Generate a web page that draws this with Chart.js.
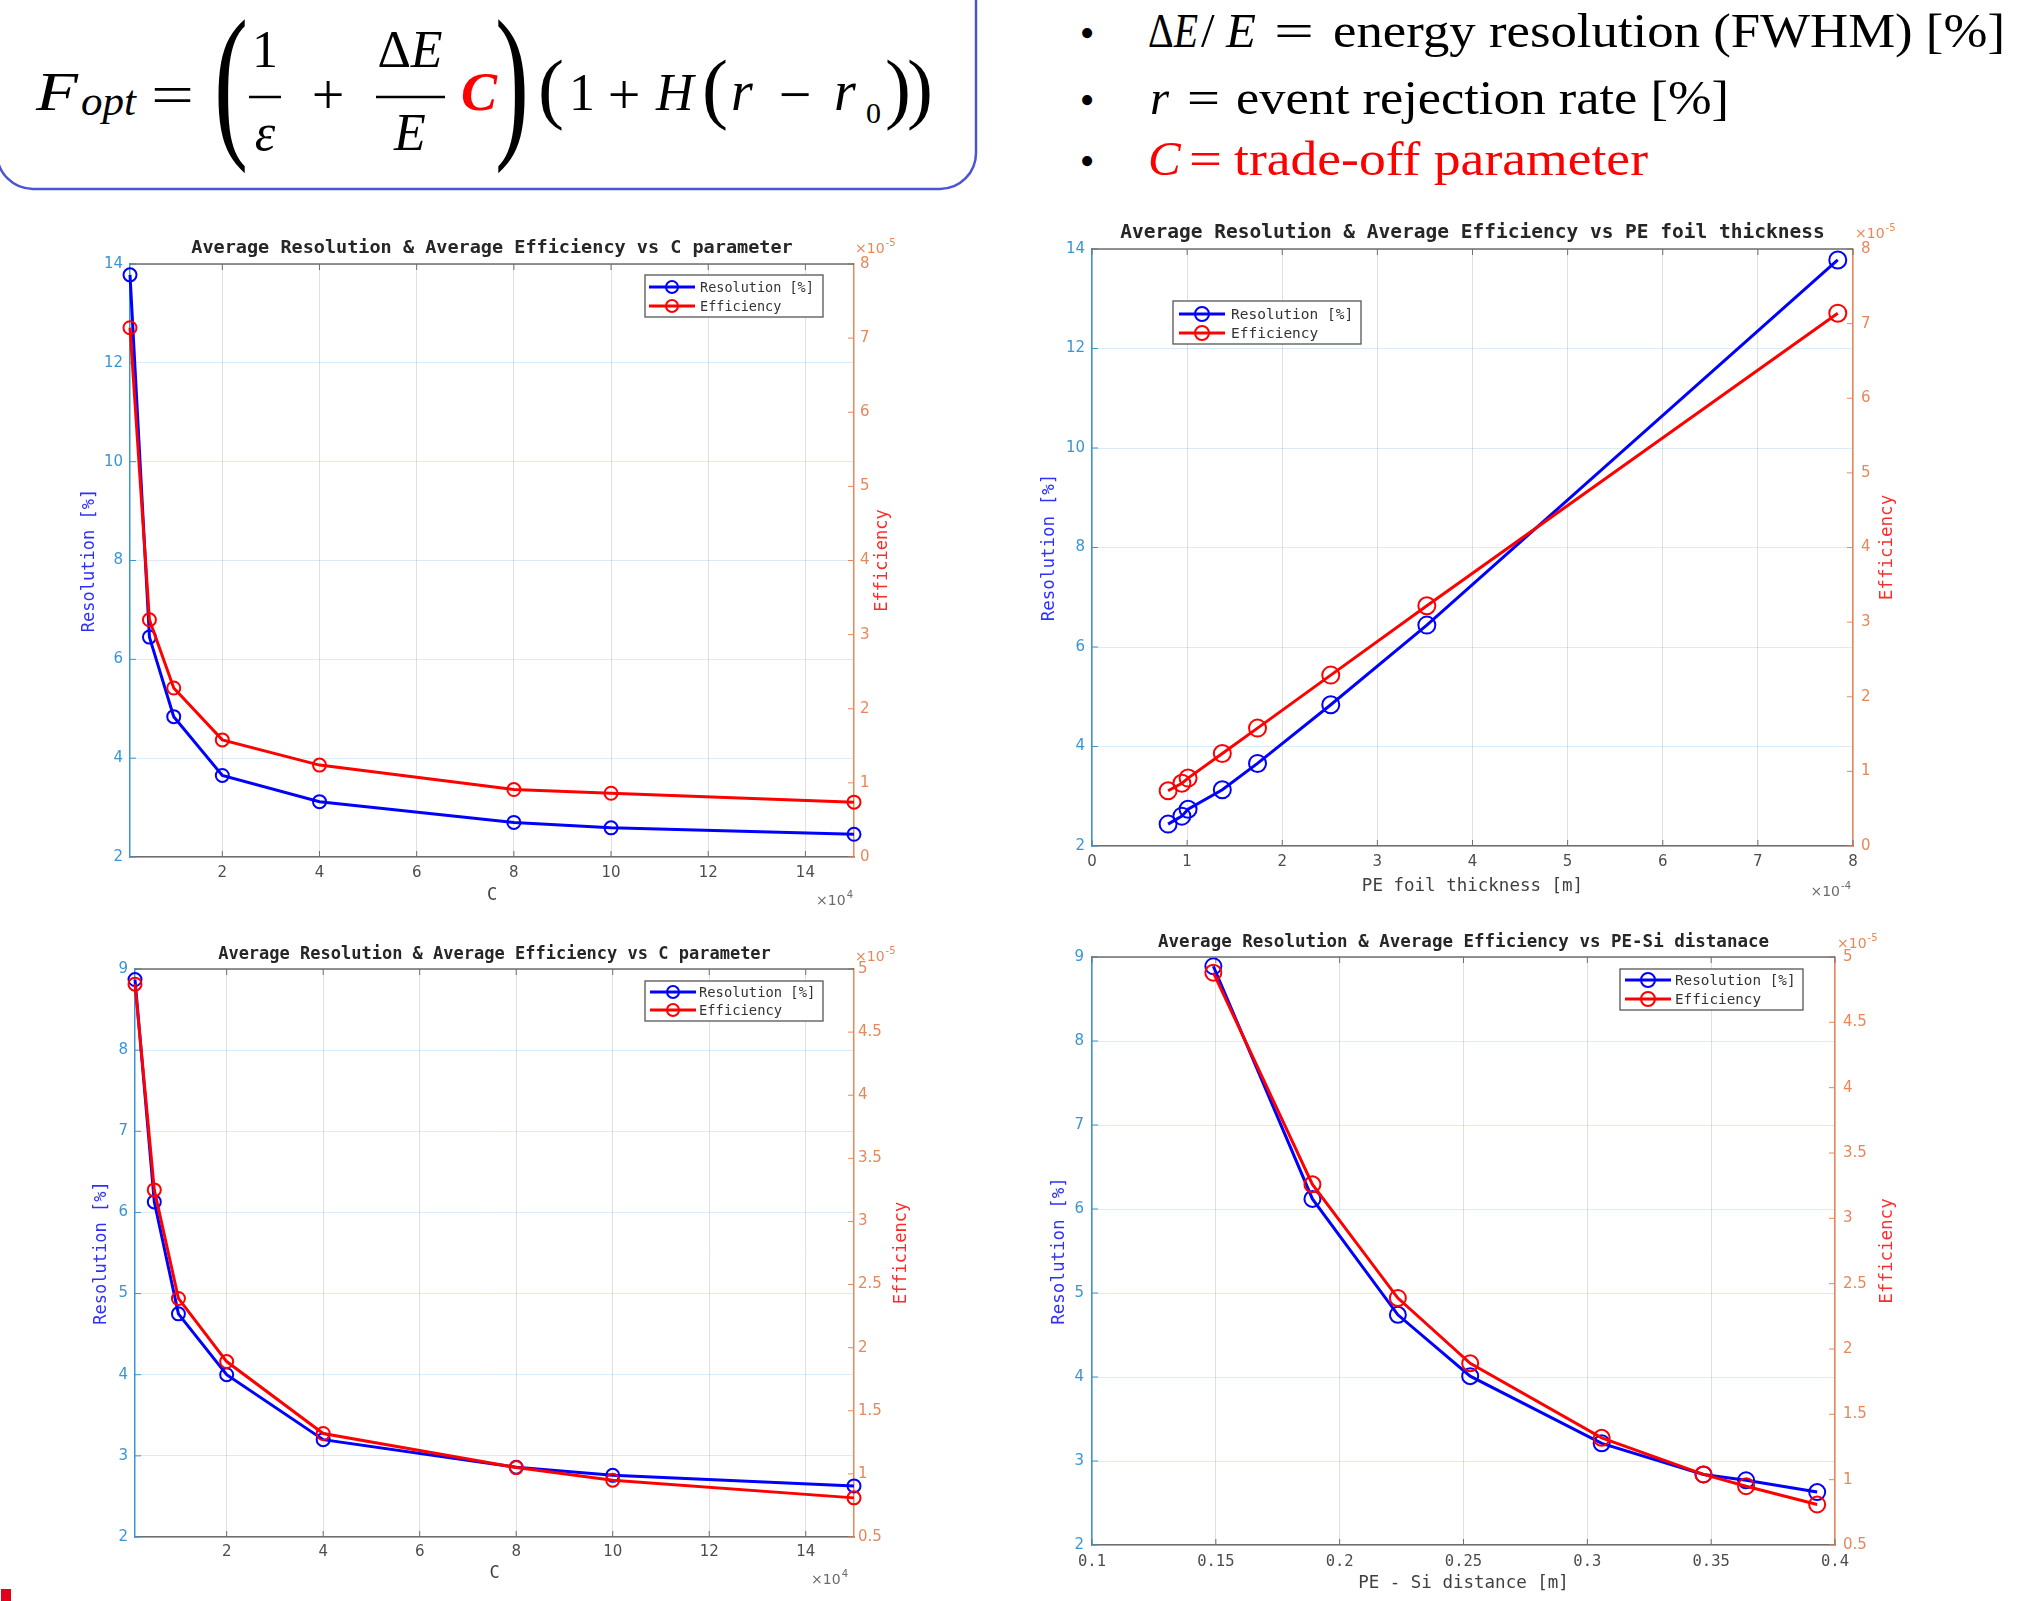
<!DOCTYPE html>
<html>
<head>
<meta charset="utf-8">
<script src="https://cdn.jsdelivr.net/npm/chart.js@4.4.0/dist/chart.umd.min.js"></script>
<style>
  html, body { margin: 0; padding: 0; background: #fff; }
  body { width: 2027px; height: 1601px; position: relative; overflow: hidden; }
  canvas { position: absolute; }
  #head { position: absolute; left: 0; top: 0; }
  #head text { font-family: 'Liberation Serif', 'Times New Roman', serif; }
  #mark { position: absolute; left: 1px; top: 1589px; width: 10px; height: 12px; background: #e3001b; }
</style>
</head>
<body>

<svg id="head" width="2027" height="200" fill="#000">
  <rect x="-3" y="-40" width="979" height="229" rx="36" fill="none" stroke="#4b55d2" stroke-width="2.5"/>
  <!-- formula -->
  <text x="36" y="110" font-size="54" font-style="italic" textLength="42" lengthAdjust="spacingAndGlyphs">F</text>
  <text x="81" y="115" font-size="42" font-style="italic" textLength="55" lengthAdjust="spacingAndGlyphs">opt</text>
  <text x="151" y="114" font-size="58" textLength="43" lengthAdjust="spacingAndGlyphs">=</text>
  <text x="214" y="137" font-size="169" textLength="34" lengthAdjust="spacingAndGlyphs">(</text>
  <text x="265" y="67" font-size="52" text-anchor="middle">1</text>
  <line x1="249" y1="97" x2="281" y2="97" stroke="#000" stroke-width="2.5"/>
  <text x="265" y="150" font-size="52" font-style="italic" text-anchor="middle">ε</text>
  <text x="328" y="114" font-size="58" text-anchor="middle">+</text>
  <text x="410" y="67" font-size="52" text-anchor="middle"><tspan>Δ</tspan><tspan font-style="italic">E</tspan></text>
  <line x1="376" y1="97" x2="445" y2="97" stroke="#000" stroke-width="2.5"/>
  <text x="410" y="150" font-size="52" font-style="italic" text-anchor="middle">E</text>
  <text x="461" y="110" font-size="54" font-style="italic" font-weight="bold" fill="#ff0000">C</text>
  <text x="495" y="137" font-size="169" textLength="34" lengthAdjust="spacingAndGlyphs">)</text>
  <text x="538" y="114" font-size="78">(</text>
  <text x="569" y="110" font-size="52">1</text>
  <text x="624" y="114" font-size="58" text-anchor="middle">+</text>
  <text x="656" y="110" font-size="52" font-style="italic">H</text>
  <text x="702" y="114" font-size="78">(</text>
  <text x="731" y="110" font-size="56" font-style="italic">r</text>
  <text x="795" y="114" font-size="58" text-anchor="middle">−</text>
  <text x="834" y="110" font-size="56" font-style="italic">r</text>
  <text x="866" y="123" font-size="30">0</text>
  <text x="885" y="114" font-size="78">)</text>
  <text x="907" y="114" font-size="78">)</text>
  <!-- bullets -->
  <text x="1087" y="47" font-size="42" text-anchor="middle">•</text>
  <text x="1148" y="47" font-size="49" textLength="50" lengthAdjust="spacingAndGlyphs"><tspan>Δ</tspan><tspan font-style="italic">E</tspan></text>
  <text x="1201" y="47" font-size="49">/</text>
  <text x="1226" y="47" font-size="49" font-style="italic">E</text>
  <text x="1274" y="47" font-size="49" textLength="40" lengthAdjust="spacingAndGlyphs">=</text>
  <text x="1333" y="47" font-size="49" textLength="672" lengthAdjust="spacingAndGlyphs">energy resolution (FWHM) [%]</text>

  <text x="1087" y="114" font-size="42" text-anchor="middle">•</text>
  <text x="1150" y="114" font-size="49" font-style="italic">r</text>
  <text x="1187" y="114" font-size="49" textLength="33" lengthAdjust="spacingAndGlyphs">=</text>
  <text x="1236" y="114" font-size="49" textLength="493" lengthAdjust="spacingAndGlyphs">event rejection rate [%]</text>

  <text x="1087" y="175" font-size="42" text-anchor="middle">•</text>
  <text x="1148" y="175" font-size="49" font-style="italic" fill="#ff0000">C</text>
  <text x="1189" y="175" font-size="49" fill="#ff0000" textLength="33" lengthAdjust="spacingAndGlyphs">=</text>
  <text x="1234" y="175" font-size="49" fill="#ff0000" textLength="414" lengthAdjust="spacingAndGlyphs">trade-off parameter</text>
</svg>

<canvas id="c1"></canvas>
<canvas id="c2"></canvas>
<canvas id="c3"></canvas>
<canvas id="c4"></canvas>
<div id="mark"></div>

<script>
// C parameter scan (top left)
const cValues = [1000, 5000, 10000, 20000, 40000, 80000, 100000, 150000];
const resC = [13.78, 6.45, 4.84, 3.65, 3.12, 2.70, 2.59, 2.46];
const effC = [7.14e-5, 3.20e-5, 2.28e-5, 1.58e-5, 1.24e-5, 0.91e-5, 0.86e-5, 0.74e-5];

// PE foil thickness scan (top right)
const thickValues = [0.80e-4, 0.945e-4, 1.01e-4, 1.37e-4, 1.74e-4, 2.51e-4, 3.52e-4, 7.84e-4];
const resThick = [2.44, 2.60, 2.74, 3.13, 3.66, 4.84, 6.44, 13.78];
const effThick = [0.74e-5, 0.84e-5, 0.91e-5, 1.24e-5, 1.58e-5, 2.29e-5, 3.22e-5, 7.14e-5];

// C parameter scan, second setup (bottom left)
const resC2 = [8.87, 6.13, 4.75, 4.00, 3.20, 2.86, 2.76, 2.63];
const effC2 = [4.88e-5, 3.25e-5, 2.39e-5, 1.89e-5, 1.32e-5, 1.05e-5, 0.95e-5, 0.81e-5];

// PE-Si distance scan (bottom right)
const distValues = [0.149, 0.189, 0.2235, 0.2527, 0.3058, 0.3469, 0.3641, 0.3928];
const resDist = [8.89, 6.12, 4.74, 4.01, 3.21, 2.84, 2.77, 2.63];
const effDist = [4.88e-5, 3.26e-5, 2.39e-5, 1.89e-5, 1.32e-5, 1.04e-5, 0.95e-5, 0.81e-5];

// ticks
const cTicks = [20000, 40000, 60000, 80000, 100000, 120000, 140000];
const cTickLabels = ['2', '4', '6', '8', '10', '12', '14'];
const thickTicks = [0, 1e-4, 2e-4, 3e-4, 4e-4, 5e-4, 6e-4, 7e-4, 8e-4];
const thickTickLabels = ['0', '1', '2', '3', '4', '5', '6', '7', '8'];
const distTicks = [0.1, 0.15, 0.2, 0.25, 0.3, 0.35, 0.4];
const distTickLabels = ['0.1', '0.15', '0.2', '0.25', '0.3', '0.35', '0.4'];
const resTicksTop = [2, 4, 6, 8, 10, 12, 14];
const resTickLabelsTop = ['2', '4', '6', '8', '10', '12', '14'];
const effTicksTop = [0, 1e-5, 2e-5, 3e-5, 4e-5, 5e-5, 6e-5, 7e-5, 8e-5];
const effTickLabelsTop = ['0', '1', '2', '3', '4', '5', '6', '7', '8'];
const resTicksBottom = [2, 3, 4, 5, 6, 7, 8, 9];
const resTickLabelsBottom = ['2', '3', '4', '5', '6', '7', '8', '9'];
const effTicksBottom = [0.5e-5, 1e-5, 1.5e-5, 2e-5, 2.5e-5, 3e-5, 3.5e-5, 4e-5, 4.5e-5, 5e-5];
const effTickLabelsBottom = ['0.5', '1', '1.5', '2', '2.5', '3', '3.5', '4', '4.5', '5'];

const BLUE_AX = '#3a95d5';
const ORANGE_AX = '#e8875a';

function drawExp(ctx, sup, x, y, alignRight, color) {
  ctx.textAlign = 'left';
  ctx.textBaseline = 'alphabetic';
  ctx.font = '14px "DejaVu Sans"';
  const w1 = ctx.measureText('\u00d710').width;
  ctx.font = '10px "DejaVu Sans"';
  const w2 = ctx.measureText(sup).width;
  const x0 = alignRight ? x - w1 - w2 - 1 : x;
  ctx.fillStyle = color;
  ctx.font = '14px "DejaVu Sans"';
  ctx.fillText('\u00d710', x0, y);
  ctx.font = '10px "DejaVu Sans"';
  ctx.fillText(sup, x0 + w1 + 1, y - 7);
}

function decorFor(box, plot, o) {
  return {
    id: 'decor',
    beforeDatasetsDraw(chart) {
      const ctx = chart.ctx, a = chart.chartArea;
      const sx = chart.scales.x, yl = chart.scales.yL, yr = chart.scales.yR;
      ctx.save();
      ctx.lineWidth = 1;
      ctx.strokeStyle = '#6e6e6e';
      ctx.beginPath();
      sx.ticks.forEach(t => {
        const p = sx.getPixelForValue(t.value);
        ctx.moveTo(p, a.bottom); ctx.lineTo(p, a.bottom - 6);
        ctx.moveTo(p, a.top); ctx.lineTo(p, a.top + 6);
      });
      ctx.stroke();
      ctx.strokeStyle = BLUE_AX;
      ctx.beginPath();
      yl.ticks.forEach(t => {
        const p = yl.getPixelForValue(t.value);
        ctx.moveTo(a.left, p); ctx.lineTo(a.left + 6, p);
      });
      ctx.stroke();
      ctx.strokeStyle = ORANGE_AX;
      ctx.beginPath();
      yr.ticks.forEach(t => {
        const p = yr.getPixelForValue(t.value);
        ctx.moveTo(a.right, p); ctx.lineTo(a.right - 6, p);
      });
      ctx.stroke();
      ctx.restore();
    },
    afterDraw(chart) {
      const ctx = chart.ctx, a = chart.chartArea;
      ctx.save();
      // top border
      ctx.strokeStyle = '#6e6e6e';
      ctx.lineWidth = 1.5;
      ctx.beginPath();
      ctx.moveTo(a.left, a.top); ctx.lineTo(a.right, a.top);
      ctx.stroke();
      // title
      ctx.fillStyle = '#262626';
      ctx.font = 'bold ' + o.titleSize + 'px "DejaVu Sans Mono"';
      ctx.textAlign = 'center';
      ctx.textBaseline = 'middle';
      ctx.fillText(o.title, (a.left + a.right) / 2, o.titleY - box.y);
      // right axis title
      ctx.save();
      ctx.translate(o.rightTitleX - box.x, (a.top + a.bottom) / 2);
      ctx.rotate(-Math.PI / 2);
      ctx.fillStyle = '#ff2a2a';
      ctx.font = o.labelSize + 'px "DejaVu Sans Mono"';
      ctx.fillText('Efficiency', 0, 0);
      ctx.restore();
      // exponents
      drawExp(ctx, o.rExp.text, o.rExp.x - box.x, o.rExp.y - box.y, false, ORANGE_AX);
      if (o.xExp) drawExp(ctx, o.xExp.text, o.xExp.x - box.x, o.xExp.y - box.y, true, '#6a6a6a');
      // legend
      const L = o.legend;
      ctx.fillStyle = '#fff';
      ctx.strokeStyle = '#555';
      ctx.lineWidth = 1.3;
      ctx.fillRect(L.x1 - box.x, L.y1 - box.y, L.x2 - L.x1, L.y2 - L.y1);
      ctx.strokeRect(L.x1 - box.x, L.y1 - box.y, L.x2 - L.x1, L.y2 - L.y1);
      ctx.font = L.size + 'px "DejaVu Sans Mono"';
      ctx.textAlign = 'left';
      ctx.textBaseline = 'middle';
      chart.data.datasets.forEach((ds, i) => {
        const y = L.rows[i] - box.y;
        ctx.strokeStyle = ds.borderColor;
        ctx.lineWidth = 2.8;
        ctx.beginPath();
        ctx.moveTo(L.lineA - box.x, y); ctx.lineTo(L.lineB - box.x, y);
        ctx.stroke();
        ctx.lineWidth = 2;
        ctx.beginPath();
        ctx.arc((L.lineA + L.lineB) / 2 - box.x, y, L.r, 0, Math.PI * 2);
        ctx.stroke();
        ctx.fillStyle = '#333';
        ctx.fillText(ds.label, L.textX - box.x, y + 1);
      });
      ctx.restore();
    }
  };
}

function makeChart(id, box, plot, o) {
  const cv = document.getElementById(id);
  cv.width = box.w; cv.height = box.h;
  cv.style.left = box.x + 'px'; cv.style.top = box.y + 'px';
  const tickLh = o.tickSize * 1.2;
  const lh = o.labelSize * 1.2;
  const ptStyle = (color, order) => ({
    borderColor: color, backgroundColor: color, borderWidth: 3,
    pointRadius: o.radius, pointBorderWidth: 2, pointBorderColor: color,
    pointBackgroundColor: 'rgba(0,0,0,0)', tension: 0, clip: false, order: order
  });
  new Chart(cv, {
    type: 'line',
    data: {
      datasets: [
        Object.assign({ label: 'Resolution [%]', yAxisID: 'yL',
          data: o.xs.map((v, i) => ({ x: v, y: o.res[i] })) }, ptStyle('#0000ff', 1)),
        Object.assign({ label: 'Efficiency', yAxisID: 'yR',
          data: o.xs.map((v, i) => ({ x: v, y: o.eff[i] })) }, ptStyle('#ff0000', 0))
      ]
    },
    options: {
      responsive: false, animation: false, events: [],
      layout: { padding: { top: plot.t - box.y, left: 0, right: 0, bottom: 0 } },
      plugins: { legend: { display: false }, tooltip: { enabled: false } },
      scales: {
        x: {
          type: 'linear', position: 'bottom', min: o.xMin, max: o.xMax,
          afterBuildTicks: s => { s.ticks = o.xTicks.map(v => ({ value: v })); },
          afterFit: s => { s.height = box.y + box.h - plot.b; },
          ticks: {
            callback: (v, i) => o.xTickLabels[i], autoSkip: false, maxRotation: 0,
            color: '#4d4d4d', padding: o.xTickY - plot.b - tickLh / 2,
            font: { family: o.xMono ? 'DejaVu Sans Mono' : 'DejaVu Sans', size: o.xMono ? 15.5 : o.tickSize }
          },
          grid: { color: 'rgba(0,0,0,0.12)', drawTicks: false, lineWidth: 1 },
          border: { color: '#6e6e6e', width: 1.5 },
          title: {
            display: true, text: o.xTitle, color: '#404040',
            font: { family: 'DejaVu Sans Mono', size: o.labelSize },
            padding: { top: 0, bottom: box.y + box.h - o.xTitleY - lh / 2 }
          }
        },
        yL: {
          type: 'linear', position: 'left', min: o.yL[0], max: o.yL[o.yL.length - 1],
          afterBuildTicks: s => { s.ticks = o.yL.map(v => ({ value: v })); },
          afterFit: s => { s.width = plot.l - box.x; },
          ticks: {
            callback: (v, i) => o.yLLabels[i], color: BLUE_AX,
            padding: plot.l - o.leftTickRight,
            font: { family: 'DejaVu Sans', size: o.tickSize }
          },
          grid: { color: 'rgba(0,114,189,0.14)', drawTicks: false, lineWidth: 1 },
          border: { color: BLUE_AX, width: 1.5 },
          title: {
            display: true, text: 'Resolution [%]', color: '#2f2fff',
            font: { family: 'DejaVu Sans Mono', size: o.labelSize },
            padding: { top: o.leftTitleX - box.x - lh / 2, bottom: 0 }
          }
        },
        yR: {
          type: 'linear', position: 'right', min: o.yR[0], max: o.yR[o.yR.length - 1],
          afterBuildTicks: s => { s.ticks = o.yR.map(v => ({ value: v })); },
          afterFit: s => { s.width = box.x + box.w - plot.r; },
          ticks: {
            callback: (v, i) => o.yRLabels[i], color: ORANGE_AX,
            padding: o.rightTickLeft - plot.r,
            font: { family: 'DejaVu Sans', size: o.tickSize }
          },
          grid: { display: false, drawTicks: false },
          border: { color: ORANGE_AX, width: 1.5 }
        }
      }
    },
    plugins: [decorFor(box, plot, o)]
  });
}

makeChart('c1', { x: 30, y: 225, w: 900, h: 685 }, { l: 130, t: 264, r: 854, b: 857 }, {
  xs: cValues, res: resC, eff: effC, xMin: 1000, xMax: 150000,
  xTicks: cTicks, xTickLabels: cTickLabels, xTitle: 'C',
  yL: resTicksTop, yLLabels: resTickLabelsTop, yR: effTicksTop, yRLabels: effTickLabelsTop,
  title: 'Average Resolution & Average Efficiency vs C parameter', titleY: 248, titleSize: 18.5,
  labelSize: 17, tickSize: 15, radius: 6.5,
  leftTitleX: 89.5, rightTitleX: 883, xTitleY: 896, xTickY: 873, leftTickRight: 123, rightTickLeft: 860,
  xExp: { text: '4', x: 853, y: 905 }, rExp: { text: '-5', x: 855, y: 253 },
  legend: { x1: 645, y1: 275, x2: 823, y2: 317, rows: [287, 306], lineA: 649, lineB: 695, textX: 700, size: 13.5, r: 6 }
});

makeChart('c2', { x: 1000, y: 210, w: 1027, h: 700 }, { l: 1092, t: 249, r: 1853, b: 846 }, {
  xs: thickValues, res: resThick, eff: effThick, xMin: 0, xMax: 8e-4,
  xTicks: thickTicks, xTickLabels: thickTickLabels, xTitle: 'PE foil thickness [m]',
  yL: resTicksTop, yLLabels: resTickLabelsTop, yR: effTicksTop, yRLabels: effTickLabelsTop,
  title: 'Average Resolution & Average Efficiency vs PE foil thickness', titleY: 233, titleSize: 19.5,
  labelSize: 17.5, tickSize: 15, radius: 8.5,
  leftTitleX: 1049, rightTitleX: 1887, xTitleY: 886, xTickY: 862, leftTickRight: 1085, rightTickLeft: 1861,
  xExp: { text: '-4', x: 1851, y: 896 }, rExp: { text: '-5', x: 1855, y: 238 },
  legend: { x1: 1173, y1: 301, x2: 1361, y2: 344, rows: [314, 333], lineA: 1179, lineB: 1225, textX: 1231, size: 14.5, r: 7 }
});

makeChart('c3', { x: 30, y: 930, w: 900, h: 665 }, { l: 135, t: 969, r: 854, b: 1537 }, {
  xs: cValues, res: resC2, eff: effC2, xMin: 1000, xMax: 150000,
  xTicks: cTicks, xTickLabels: cTickLabels, xTitle: 'C',
  yL: resTicksBottom, yLLabels: resTickLabelsBottom, yR: effTicksBottom, yRLabels: effTickLabelsBottom,
  title: 'Average Resolution & Average Efficiency vs C parameter', titleY: 955, titleSize: 17,
  labelSize: 17, tickSize: 15, radius: 6.5,
  leftTitleX: 102, rightTitleX: 902, xTitleY: 1574, xTickY: 1552, leftTickRight: 128, rightTickLeft: 858,
  xExp: { text: '4', x: 848, y: 1584 }, rExp: { text: '-5', x: 855, y: 961 },
  legend: { x1: 645, y1: 981, x2: 823, y2: 1021, rows: [992, 1010], lineA: 650, lineB: 696, textX: 699, size: 13.8, r: 6 }
});

makeChart('c4', { x: 1000, y: 915, w: 1027, h: 686 }, { l: 1092, t: 957, r: 1835, b: 1545 }, {
  xs: distValues, res: resDist, eff: effDist, xMin: 0.1, xMax: 0.4, xMono: true,
  xTicks: distTicks, xTickLabels: distTickLabels, xTitle: 'PE - Si distance [m]',
  yL: resTicksBottom, yLLabels: resTickLabelsBottom, yR: effTicksBottom, yRLabels: effTickLabelsBottom,
  title: 'Average Resolution & Average Efficiency vs PE-Si distanace', titleY: 942, titleSize: 17.5,
  labelSize: 17.5, tickSize: 15, radius: 8,
  leftTitleX: 1059, rightTitleX: 1887, xTitleY: 1583.6, xTickY: 1561.5, leftTickRight: 1084, rightTickLeft: 1843,
  xExp: null, rExp: { text: '-5', x: 1837, y: 948 },
  legend: { x1: 1620, y1: 969, x2: 1803, y2: 1010, rows: [980, 999], lineA: 1625, lineB: 1671, textX: 1675, size: 14.3, r: 7 }
});
</script>
</body>
</html>
